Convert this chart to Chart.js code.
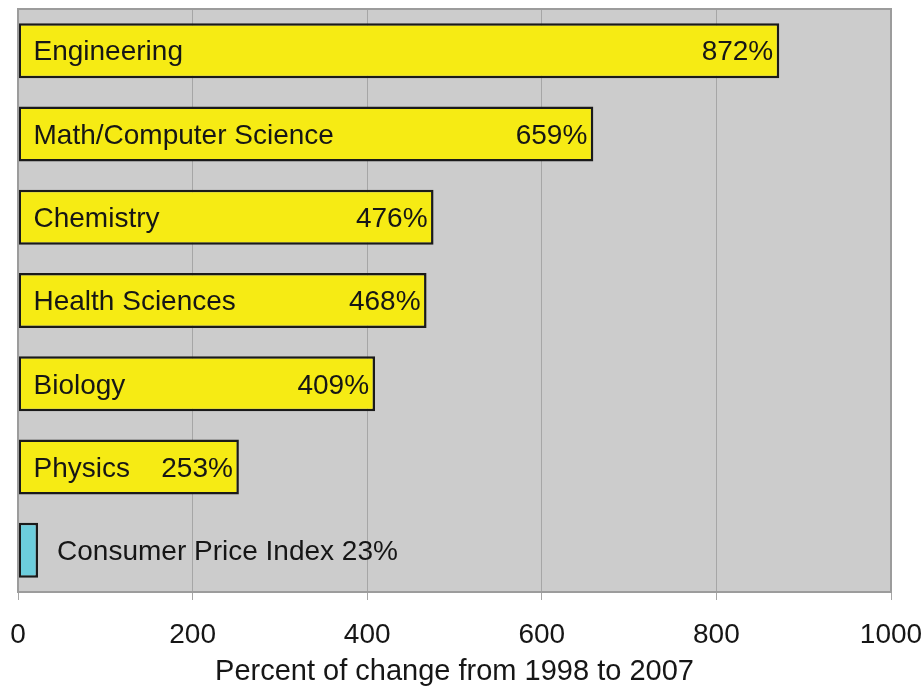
<!DOCTYPE html>
<html>
<head>
<meta charset="utf-8">
<script src="https://cdn.jsdelivr.net/npm/chart.js@4.4.1/dist/chart.umd.min.js"></script>
<style>
  html, body { margin: 0; padding: 0; background: #ffffff; }
  #wrap { width: 924px; height: 689px; }
</style>
</head>
<body>
<div id="wrap"><canvas id="chart" width="924" height="689"></canvas></div>
<script>
// Data
const fields = ['Engineering', 'Math/Computer Science', 'Chemistry', 'Health Sciences', 'Biology', 'Physics', 'Consumer Price Index'];
const changes = [872, 659, 476, 468, 409, 253, 23];
const barColors = ['#f6eb14', '#f6eb14', '#f6eb14', '#f6eb14', '#f6eb14', '#f6eb14', '#6ccddc'];
const xTicks = [0, 200, 400, 600, 800, 1000];

const FONT = '"Liberation Sans", Arial, Helvetica, sans-serif';

// Gray plot background and frame
const plotBackground = {
    id: 'plotBackground',
    beforeDraw(chart) {
        const { ctx, chartArea: a } = chart;
        ctx.save();
        ctx.fillStyle = '#cccccc';
        ctx.fillRect(a.left, a.top, a.right - a.left, a.bottom - a.top);
        ctx.restore();
    },
    afterDraw(chart) {
        const { ctx, chartArea: a } = chart;
        ctx.save();
        ctx.strokeStyle = '#9c9c9c';
        ctx.lineWidth = 2;
        ctx.strokeRect(a.left, a.top, a.right - a.left, a.bottom - a.top);
        ctx.restore();
    }
};

// Names and percentages written on the bars
const barLabels = {
    id: 'barLabels',
    afterDatasetsDraw(chart) {
        const { ctx } = chart;
        const meta = chart.getDatasetMeta(0);
        ctx.save();
        ctx.font = '28px ' + FONT;
        ctx.fillStyle = '#161616';
        ctx.textBaseline = 'middle';
        meta.data.forEach((bar, i) => {
            const name = fields[i];
            const pct = changes[i] + '%';
            const y = bar.y + 2;
            if (bar.x - bar.base < 120) {
                ctx.textAlign = 'left';
                ctx.fillText(name + ' ' + pct, bar.x + 19, y);
            } else {
                ctx.textAlign = 'left';
                ctx.fillText(name, bar.base + 15, y);
                ctx.textAlign = 'right';
                ctx.fillText(pct, bar.x - 6, y);
            }
        });
        ctx.restore();
    }
};

new Chart(document.getElementById('chart'), {
    type: 'bar',
    data: {
        labels: fields,
        datasets: [{
            data: changes,
            backgroundColor: barColors,
            borderColor: '#1a1a1a',
            borderWidth: 2.5,
            borderSkipped: false,
            categoryPercentage: 1,
            barPercentage: 0.66
        }]
    },
    options: {
        indexAxis: 'y',
        responsive: false,
        animation: false,
        layout: { padding: { left: 18, right: 33, top: 9, bottom: 0 } },
        plugins: {
            legend: { display: false },
            tooltip: { enabled: false }
        },
        scales: {
            x: {
                min: 0,
                max: 1000,
                afterBuildTicks(scale) {
                    scale.ticks = xTicks.map(v => ({ value: v }));
                },
                afterFit(scale) {
                    // keep the plot frame where the reference has it
                    scale.height = 97;
                    scale.paddingLeft = 0;
                    scale.paddingRight = 0;
                },
                grid: {
                    color: '#a6a6a6',
                    lineWidth: 1,
                    tickLength: 8,
                    drawTicks: true
                },
                border: { color: '#9c9c9c', width: 2 },
                ticks: {
                    color: '#161616',
                    padding: 18,
                    maxRotation: 0,
                    font: { family: FONT, size: 28 },
                    callback: value => String(value)
                },
                title: {
                    display: true,
                    text: 'Percent of change from 1998 to 2007',
                    color: '#161616',
                    padding: { top: 6, bottom: 0 },
                    font: { family: FONT, size: 29 }
                }
            },
            y: {
                display: false
            }
        }
    },
    plugins: [plotBackground, barLabels]
});
</script>
</body>
</html>
